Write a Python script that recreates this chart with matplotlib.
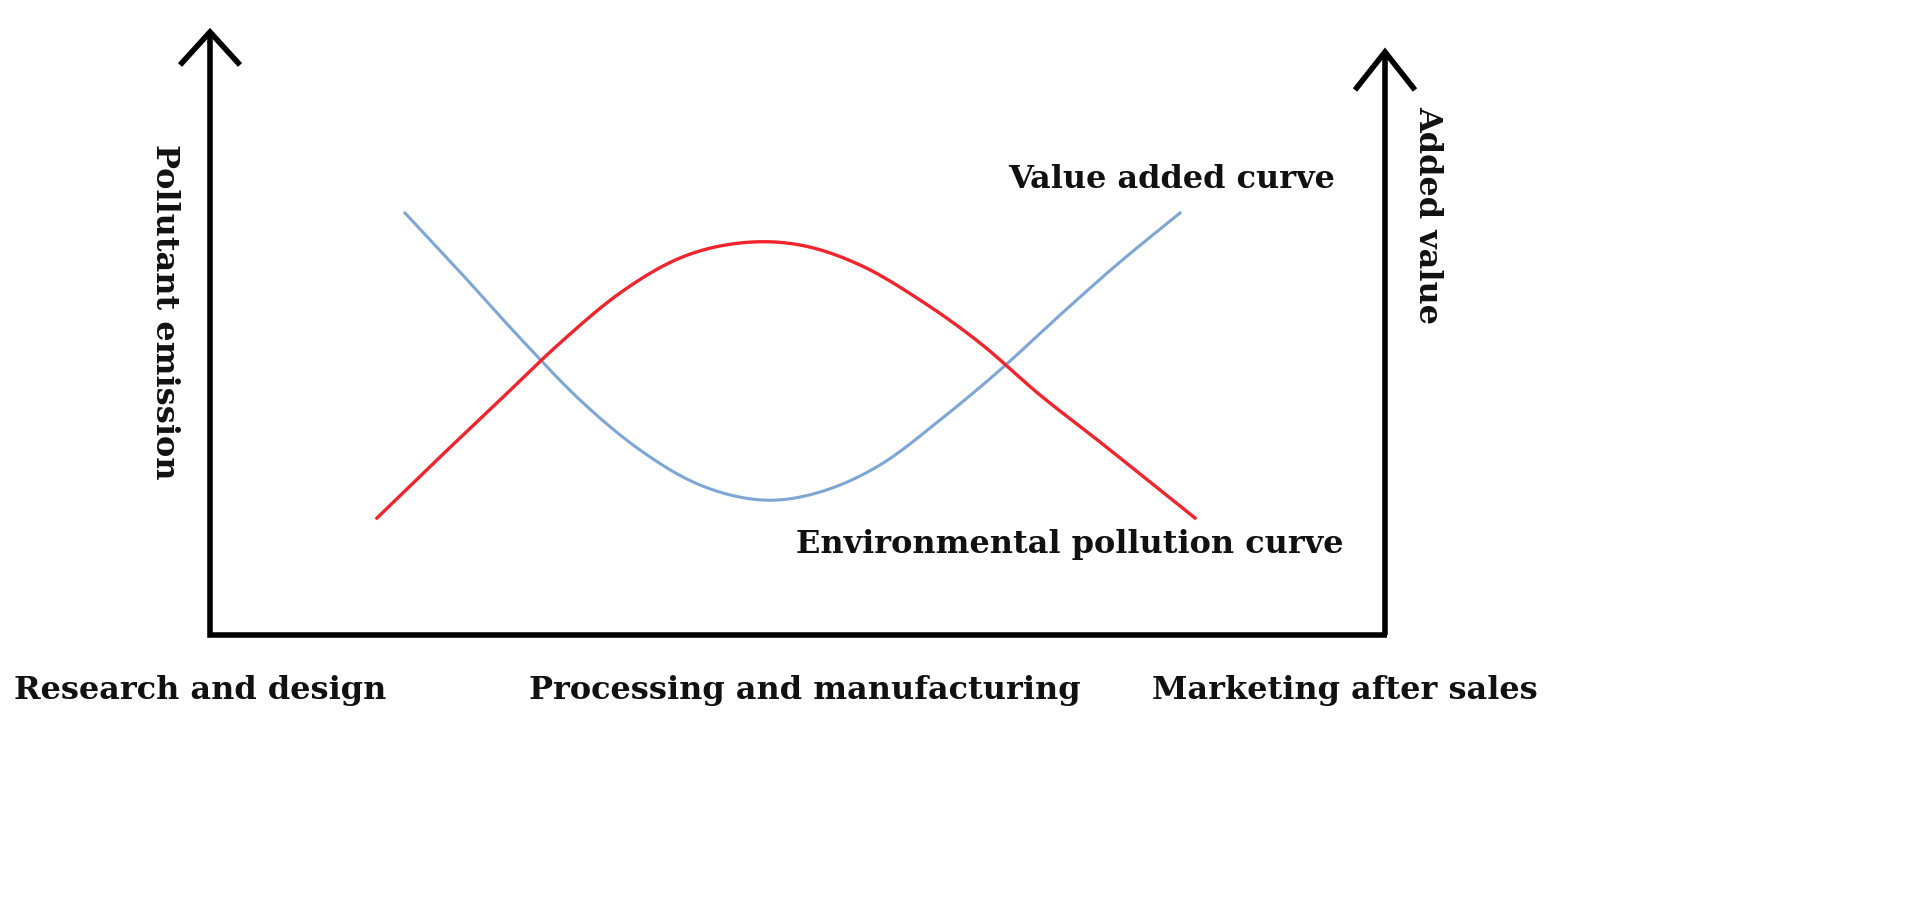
import numpy as np
import matplotlib
matplotlib.use("Agg")
import matplotlib.pyplot as plt

# curve points (pixel coordinates)
blue_x = [405, 460, 520, 580, 640, 700, 762, 820, 880, 940, 1000, 1060, 1120, 1180]
blue_y = [213, 272, 338, 400, 450, 485, 500, 492, 465, 420, 370, 315, 262, 213]
red_x = [377, 440, 500, 560, 620, 680, 740, 800, 860, 920, 980, 1040, 1100, 1160, 1195]
red_y = [518, 457, 400, 343, 293, 258, 243, 245, 265, 300, 343, 395, 442, 490, 518]
bottom_labels = ["Research and design", "Processing and manufacturing", "Marketing after sales"]

def catmull(xs, ys, n=20):
    p = np.column_stack([xs, ys]).astype(float)
    p = np.vstack([p[0], p, p[-1]])
    out = []
    t = np.linspace(0, 1, n)[:, None]
    for i in range(1, len(p) - 2):
        p0, p1, p2, p3 = p[i-1], p[i], p[i+1], p[i+2]
        seg = 0.5 * ((2*p1) + (-p0 + p2)*t + (2*p0 - 5*p1 + 4*p2 - p3)*t**2 + (-p0 + 3*p1 - 3*p2 + p3)*t**3)
        out.append(seg)
    s = np.vstack(out)
    return s[:, 0], s[:, 1]

fig = plt.figure(figsize=(19.31, 9), dpi=100)
ax = fig.add_axes([0, 0, 1, 1])
ax.set_xlim(0, 1931); ax.set_ylim(900, 0); ax.axis('off')

k = dict(color='black', lw=4, solid_capstyle='butt', solid_joinstyle='miter')
ax.plot([210, 210, 1387], [32, 635, 635], **k)
ax.plot([1385, 1385], [52, 635], **k)
ax.plot([180, 210, 240], [65, 32, 65], **k)
ax.plot([1355, 1385, 1415], [90, 52, 90], **k)

bx, by = catmull(blue_x, blue_y)
rx, ry = catmull(red_x, red_y)
ax.plot(bx, by, color='#7ea6d3', lw=2.2)
ax.plot(rx, ry, color='#f0242c', lw=2.4)

f = dict(family='DejaVu Serif', weight='bold', fontsize=23, color='#111111')
ax.text(165, 312, "Pollutant emission", rotation=-90, ha='center', va='center', **f)
ax.text(1428, 215, "Added value", rotation=-90, ha='center', va='center', **f)
ax.text(1172, 180, "Value added curve", ha='center', va='center', **f)
ax.text(1070, 545, "Environmental pollution curve", ha='center', va='center', **f)
for xpos, lab in zip([200, 805, 1345], bottom_labels):
    ax.text(xpos, 690, lab, ha='center', va='center', **f)

fig.savefig("out.png", dpi=100)
